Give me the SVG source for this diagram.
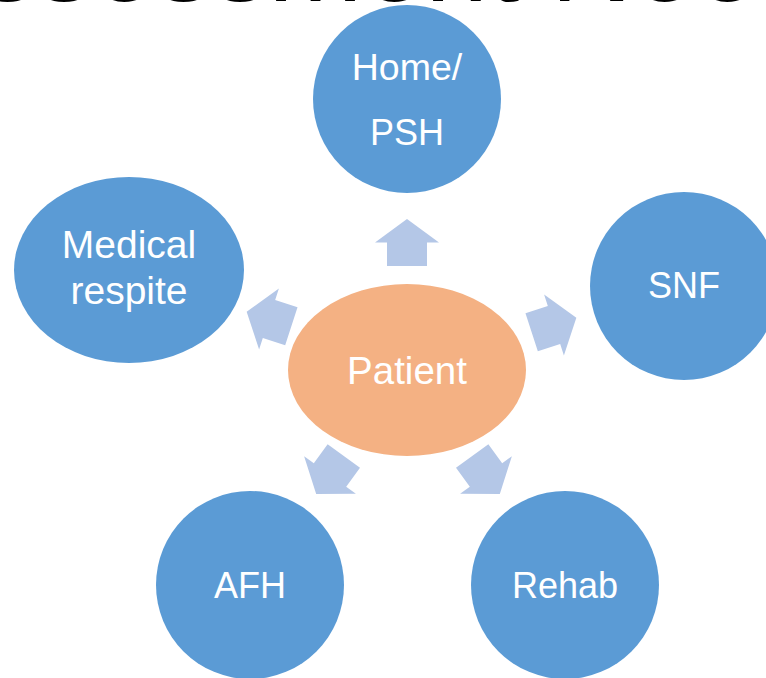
<svg xmlns="http://www.w3.org/2000/svg" width="766" height="678" viewBox="0 0 766 678">
  <style>
    .node { fill: #5B9BD5; }
    .center { fill: #F4B183; }
    .lbl { font-family: "Liberation Sans", Arial, sans-serif; font-size: 36px; fill: #FFFFFF; text-anchor: middle; }
    .big { font-size: 38.5px; }
    .title { font-family: "Liberation Sans", Arial, sans-serif; font-size: 113px; fill: #000000; }
    .arrow { fill: #B4C7E7; }
  </style>
  <defs>
    <path id="arr" d="M0,-23.5 L32,0 L20,0 L20,23.5 L-20,23.5 L-20,0 L-32,0 Z"/>
  </defs>
  <rect x="0" y="0" width="766" height="678" fill="#FFFFFF"/>
  <text class="title" x="-96" y="1">Assessment Needs</text>

  <g id="connectors">
    <use href="#arr" class="arrow" transform="translate(407,242.5)"/>
    <use href="#arr" class="arrow" transform="translate(554,325) rotate(72)"/>
    <use href="#arr" class="arrow" transform="translate(486,475) rotate(144)"/>
    <use href="#arr" class="arrow" transform="translate(330,475) rotate(216)"/>
    <use href="#arr" class="arrow" transform="translate(269,319) rotate(288)"/>
  </g>

  <g id="node-patient">
    <ellipse class="center" cx="407" cy="370" rx="119" ry="86"/>
    <text class="lbl big" x="407" y="384">Patient</text>
  </g>
  <g id="node-home">
    <circle class="node" cx="407" cy="99" r="94"/>
    <text class="lbl" x="407" y="80" style="font-size:37.5px">Home/</text>
    <text class="lbl" x="407" y="145">PSH</text>
  </g>
  <g id="node-snf">
    <circle class="node" cx="684" cy="286" r="94"/>
    <text class="lbl" x="684" y="298">SNF</text>
  </g>
  <g id="node-medical">
    <ellipse class="node" cx="129" cy="270" rx="115" ry="93"/>
    <text class="lbl" x="129" y="258" style="font-size:39px">Medical</text>
    <text class="lbl" x="129" y="304" style="font-size:39px">respite</text>
  </g>
  <g id="node-afh">
    <circle class="node" cx="250" cy="585" r="94"/>
    <text class="lbl" x="250" y="598">AFH</text>
  </g>
  <g id="node-rehab">
    <circle class="node" cx="565" cy="585" r="94"/>
    <text class="lbl" x="565" y="598">Rehab</text>
  </g>
</svg>
